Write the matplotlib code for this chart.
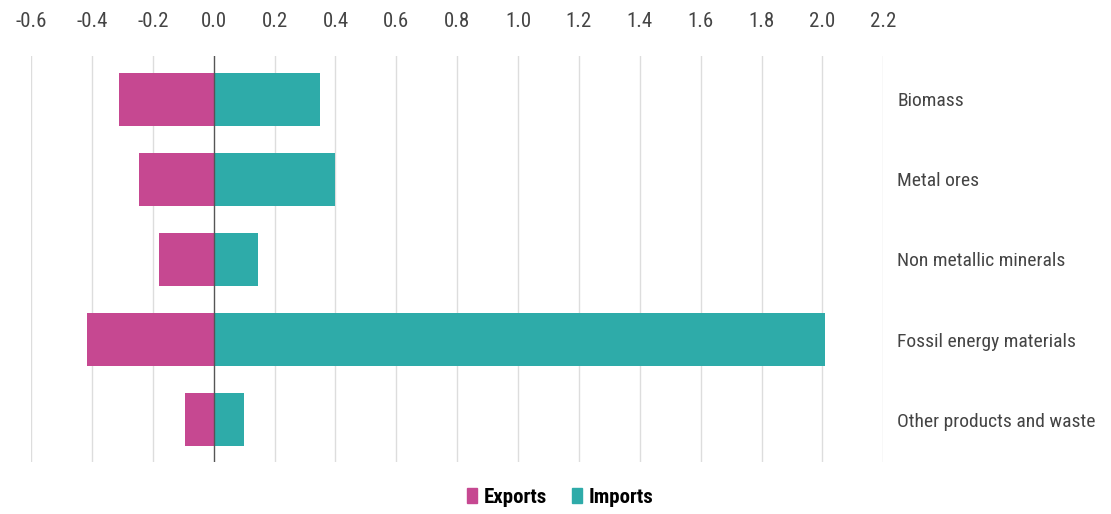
import matplotlib
matplotlib.use('Agg')
import matplotlib.pyplot as plt
from matplotlib.patches import Patch
from matplotlib import font_manager
import numpy as np

available = {f.name for f in font_manager.fontManager.ttflist}
narrow = [n for n in ['Roboto Condensed', 'Liberation Sans Narrow', 'DejaVu Sans Condensed']
          if n in available]
plt.rcParams['font.family'] = narrow + ['Liberation Sans', 'DejaVu Sans']

categories = ['Biomass', 'Metal ores', 'Non metallic minerals',
              'Fossil energy materials', 'Other products and waste']
exports = [-0.31, -0.245, -0.18, -0.415, -0.095]
imports = [0.35, 0.40, 0.145, 2.01, 0.10]
x_ticks = [-0.6, -0.4, -0.2, 0.0, 0.2, 0.4, 0.6, 0.8, 1.0, 1.2, 1.4, 1.6, 1.8, 2.0, 2.2]

export_color = '#C64891'
import_color = '#2EABA9'

fig = plt.figure(figsize=(11.11, 5.14), dpi=100)
ax = fig.add_axes([0.028, 0.101, 0.767, 0.790])

y = np.arange(len(categories))
ax.barh(y, exports, height=0.66, color=export_color, zorder=3)
ax.barh(y, imports, height=0.66, color=import_color, zorder=3)

ax.axvline(0, color='#555555', linewidth=1.0, zorder=4)
for t in x_ticks:
    if t != 0.0:
        ax.axvline(t, color='#dddddd', linewidth=1.0, zorder=1)

fs = 14 if narrow else 12
ax.set_xlim(-0.6, 2.2)
ax.set_ylim(4.53, -0.54)
ax.set_xticks(x_ticks)
ax.set_xticklabels([f'{t:.1f}' for t in x_ticks], fontsize=fs + 1, color='#444444')
ax.xaxis.tick_top()
ax.tick_params(axis='x', length=0, pad=18)

ax.yaxis.tick_right()
ax.set_yticks(y)
ax.set_yticklabels(categories, fontsize=fs, color='#444444')
ax.tick_params(axis='y', length=0, pad=10)

for s in ax.spines.values():
    s.set_visible(False)

handles = [Patch(color=export_color, label='Exports'),
           Patch(color=import_color, label='Imports')]
fig.legend(handles=handles, loc='center', bbox_to_anchor=(0.504, 0.033), ncol=2,
           frameon=False, handlelength=0.5, handleheight=0.7, handletextpad=0.3,
           columnspacing=1.2, prop={'weight': 'bold', 'size': fs + 1})

fig.savefig('out.png', dpi=100)
